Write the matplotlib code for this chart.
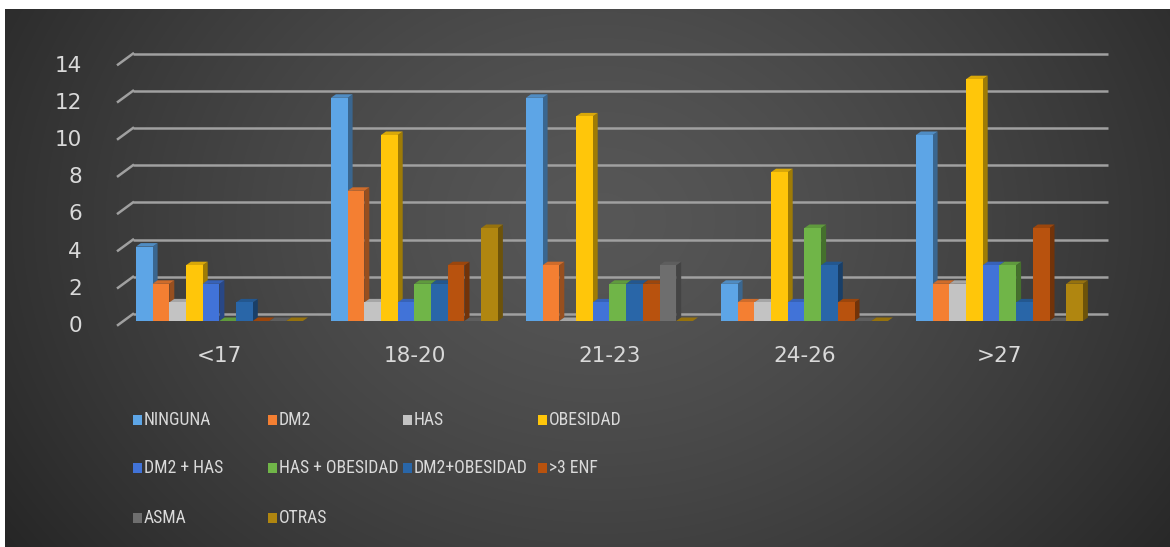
import numpy as np
import matplotlib
matplotlib.use("Agg")
import matplotlib.pyplot as plt
from matplotlib.patches import Polygon, Rectangle
from matplotlib.transforms import ScaledTranslation
from matplotlib import font_manager

# ---- data -------------------------------------------------------------
categories = ["<17", "18-20", "21-23", "24-26", ">27"]
series_names = ["NINGUNA", "DM2", "HAS", "OBESIDAD", "DM2 + HAS",
                "HAS + OBESIDAD", "DM2+OBESIDAD", ">3 ENF", "ASMA", "OTRAS"]
ninguna = [4, 12, 12, 2, 10]
dm2 = [2, 7, 3, 1, 2]
has = [1, 1, 0, 1, 2]
obesidad = [3, 10, 11, 8, 13]
dm2_has = [2, 1, 1, 1, 3]
has_obesidad = [0, 2, 2, 5, 3]
dm2_obesidad = [1, 2, 2, 3, 1]
mas3_enf = [0, 3, 2, 1, 5]
asma = [0, 0, 3, 0, 0]
otras = [0, 5, 0, 0, 2]
series_values = [ninguna, dm2, has, obesidad, dm2_has,
                 has_obesidad, dm2_obesidad, mas3_enf, asma, otras]
y_ticks = [0, 2, 4, 6, 8, 10, 12, 14]

colors = ["#5DA5E6", "#F47F32", "#C3C3C3", "#FFC60A", "#4173D8",
          "#70B548", "#2966A8", "#B8520E", "#6E6E6E", "#B08610"]

# ---- fonts --------------------------------------------------------------
def has_font(name):
    try:
        font_manager.findfont(name, fallback_to_default=False)
        return True
    except Exception:
        return False

legend_font = "Liberation Sans"
for cand in ["Liberation Sans Narrow", "Arial Narrow", "Roboto Condensed",
             "Noto Sans Condensed", "Open Sans Condensed"]:
    if has_font(cand):
        legend_font = cand
        break
text_color = "#D9D9D9"

W, H, DPI = 1170, 547, 100
fig = plt.figure(figsize=(W / DPI, H / DPI), dpi=DPI)
fig.patch.set_facecolor("white")

# ---- dark radial background --------------------------------------------
bg = fig.add_axes([0, 0, 1, 1])
bg.set_xlim(0, W)
bg.set_ylim(H, 0)
bg.set_axis_off()
xx, yy = np.meshgrid(np.arange(W), np.arange(H))
r = np.sqrt(((xx - 600) / 650.0) ** 2 + ((yy - 220) / 520.0) ** 2)
val = np.clip(0.34 - 0.165 * r ** 1.4, 0.14, 1)
img = np.dstack([val, val, val])
left_edge, top_edge = 5, 9
bg.imshow(img[top_edge:, left_edge:], extent=(left_edge, W, H, top_edge),
          interpolation="bilinear", zorder=0)

# ---- main axes -----------------------------------------------------------
ax_left, ax_base, px_x, px_y = 118, 321, 195.0, 18.6
xlim = (-0.52, 4.48)
ylim = (0, 14)
ax = fig.add_axes([ax_left / W, (H - ax_base) / H,
                   (xlim[1] - xlim[0]) * px_x / W, 14 * px_y / H])
ax.set_xlim(*xlim)
ax.set_ylim(*ylim)
ax.patch.set_alpha(0)
for s in ax.spines.values():
    s.set_visible(False)

def shifted(dx_px, dy_px):
    return ax.transData + ScaledTranslation(dx_px / DPI, dy_px / DPI, fig.dpi_scale_trans)

front_tr = shifted(0, -4)
back_tr = shifted(15, 7)

# gridlines on the back wall, with their slanted floor edges
grid_col = "#A0A0A0"
for v in y_ticks:
    ax.plot([xlim[0], xlim[1]], [v, v], color=grid_col, lw=1.8,
            transform=back_tr, zorder=1, solid_capstyle="butt", clip_on=False)
    p0 = front_tr.transform((xlim[0], v))
    p1 = back_tr.transform((xlim[0], v))
    ax.plot([p0[0], p1[0]], [p0[1], p1[1]], color=grid_col, lw=1.8,
            transform=None, zorder=1, clip_on=False)

# ---- pseudo-3D columns ----------------------------------------------------
n_series = len(series_values)
bw = 16.7 / px_x
ddx = 5.0 / px_x
ddy = 3.5 / px_y

def shade(c, f):
    rgb = np.array(matplotlib.colors.to_rgb(c))
    return tuple(np.clip(rgb * f, 0, 1))

z = 3
for g in range(len(categories)):
    for s in range(n_series):
        v = series_values[s][g]
        x0 = g - n_series * bw / 2 + s * bw
        x1 = x0 + bw
        col = colors[s]
        side = Polygon([(x1, 0), (x1 + ddx, ddy), (x1 + ddx, v + ddy), (x1, v)],
                       closed=True, facecolor=shade(col, 0.62), edgecolor="none",
                       zorder=z, clip_on=False)
        top = Polygon([(x0, v), (x1, v), (x1 + ddx, v + ddy), (x0 + ddx, v + ddy)],
                      closed=True, facecolor=shade(col, 0.85), edgecolor="none",
                      zorder=z, clip_on=False)
        ax.add_patch(side)
        ax.add_patch(top)
        ax.bar(x0, v, width=bw, align="edge", color=col, linewidth=0,
               zorder=z + 0.5, clip_on=False)
        z += 1

# ---- ticks ----------------------------------------------------------------
ax.set_yticks(y_ticks)
ax.set_yticklabels([str(t) for t in y_ticks])
ax.tick_params(axis="y", length=0, pad=26, labelsize=15.5, labelcolor=text_color)
for lab in ax.get_yticklabels():
    lab.set_transform(lab.get_transform() + ScaledTranslation(0, -3 / DPI, fig.dpi_scale_trans))
ax.set_xticks(range(len(categories)))
ax.set_xticklabels(categories)
ax.tick_params(axis="x", length=0, pad=18, labelsize=15.5, labelcolor=text_color)

# ---- legend -----------------------------------------------------------------
col_x = [133, 268, 403, 538]
row_y = [420, 468, 518]
legend_texts = []
for i, name in enumerate(series_names):
    r_i, c_i = divmod(i, 4)
    x, y = col_x[c_i], row_y[r_i]
    bg.add_patch(Rectangle((x, y - 5), 9, 10, facecolor=colors[i],
                           edgecolor="none", zorder=5))
    t = bg.text(x + 11, y, name, color=text_color, fontsize=14,
                family=[legend_font, "DejaVu Sans"], va="center", ha="left", zorder=5)
    legend_texts.append((t, c_i))

# shrink legend text so every entry stays inside its column
renderer = fig.canvas.get_renderer()
col_room = 135 - 11 - 4
widest = max(t.get_window_extent(renderer).width for t, c in legend_texts if c < 3)
if widest > col_room:
    new_size = 14 * col_room / widest
    for t, c in legend_texts:
        t.set_fontsize(new_size)

fig.savefig("out.png", dpi=DPI, facecolor=fig.get_facecolor())
